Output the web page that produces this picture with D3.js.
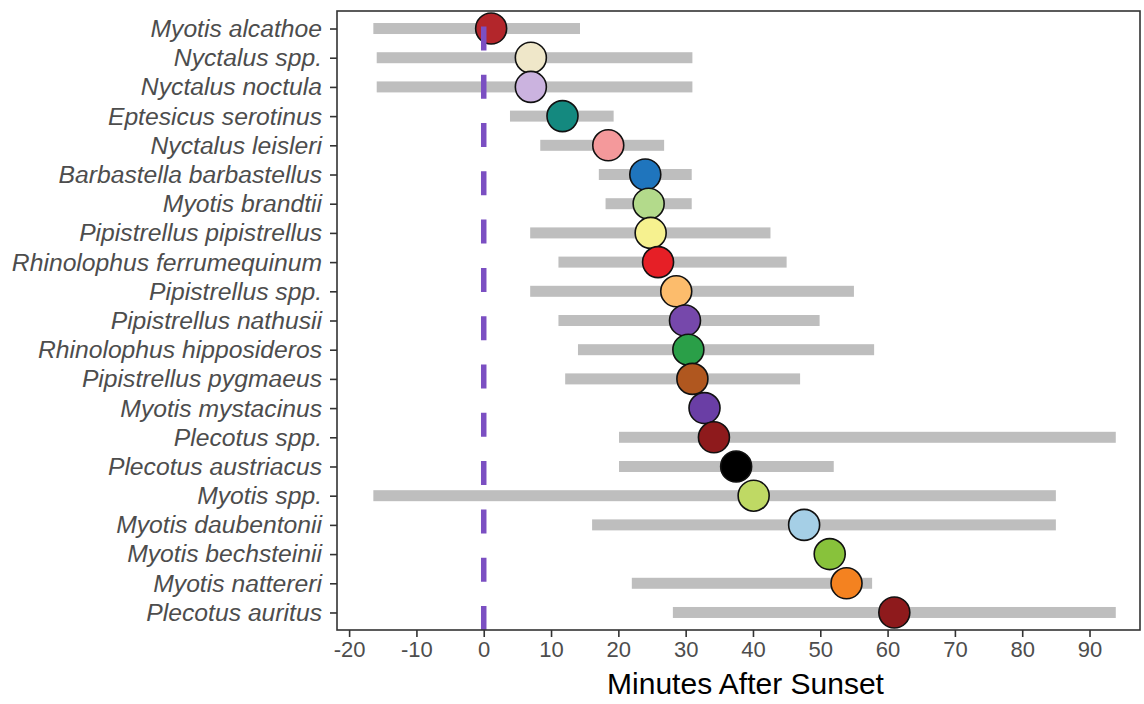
<!DOCTYPE html>
<html>
<head>
<meta charset="utf-8">
<script src="https://cdn.jsdelivr.net/npm/d3@7"></script>
<style>
  html, body { margin: 0; padding: 0; background: #fff; }
  svg text { font-family: "Liberation Sans", Arial, sans-serif; }
</style>
</head>
<body>
<div id="chart"></div>
<script>
// Emergence times of bat species (minutes after sunset)
const species = [
  'Myotis alcathoe', 'Nyctalus spp.', 'Nyctalus noctula', 'Eptesicus serotinus',
  'Nyctalus leisleri', 'Barbastella barbastellus', 'Myotis brandtii',
  'Pipistrellus pipistrellus', 'Rhinolophus ferrumequinum', 'Pipistrellus spp.',
  'Pipistrellus nathusii', 'Rhinolophus hipposideros', 'Pipistrellus pygmaeus',
  'Myotis mystacinus', 'Plecotus spp.', 'Plecotus austriacus', 'Myotis spp.',
  'Myotis daubentonii', 'Myotis bechsteinii', 'Myotis nattereri', 'Plecotus auritus'
];
const rangeStart = [-16.4, -15.9, -15.9, 3.9, 8.4, 17.1, 18.1, 6.9, 11.1, 6.9, 11.1,
  14.0, 12.1, null, 20.1, 20.1, -16.4, 16.1, null, 22.0, 28.1];
const rangeEnd = [14.3, 31.0, 31.0, 19.3, 26.8, 30.9, 30.9, 42.6, 45.0, 55.0, 49.9,
  58.0, 47.0, null, 93.9, 52.0, 85.0, 85.0, null, 57.7, 93.9];
const median = [1.1, 7.0, 7.0, 11.7, 18.5, 24.0, 24.5, 24.8, 25.9, 28.6, 29.9,
  30.4, 31.0, 32.8, 34.2, 37.5, 40.1, 47.6, 51.4, 53.9, 61.0];
const pointColors = ['#b3262b', '#efe7c9', '#cbb3df', '#14897f', '#f4999b', '#1f75bd',
  '#b3da8b', '#f6f18f', '#e61f26', '#fcbc6c', '#7648ab', '#2a9f48', '#b0571f',
  '#6a3ea5', '#8e1a1c', '#000000', '#bfd964', '#a5cfe6', '#88c23b', '#f48220', '#8e1a1c'];
const xTicks = [-20, -10, 0, 10, 20, 30, 40, 50, 60, 70, 80, 90];

const W = 1144, H = 704;
const margin = { top: 11, right: 4, bottom: 74, left: 337 };

const svg = d3.select('#chart').append('svg')
  .attr('width', W)
  .attr('height', H);

const x = d3.scaleLinear()
  .domain([-21.8, 97.5])
  .range([margin.left, W - margin.right]);

const y = d3.scalePoint()
  .domain(species)
  .range([margin.top, H - margin.bottom])
  .padding(0.6);

const rows = species.map((s, i) => ({
  name: s, lo: rangeStart[i], hi: rangeEnd[i], mid: median[i], color: pointColors[i]
}));

// range bars
svg.append('g').selectAll('rect')
  .data(rows.filter((d) => d.lo !== null))
  .enter().append('rect')
  .attr('x', (d) => x(d.lo))
  .attr('y', (d) => y(d.name) - 5.5)
  .attr('width', (d) => x(d.hi) - x(d.lo))
  .attr('height', 11)
  .attr('fill', '#bebebe');

// median points
svg.append('g').selectAll('circle')
  .data(rows)
  .enter().append('circle')
  .attr('cx', (d) => x(d.mid))
  .attr('cy', (d) => y(d.name))
  .attr('r', 15.5)
  .attr('fill', (d) => d.color)
  .attr('stroke', '#111')
  .attr('stroke-width', 1.6);

// sunset reference line, drawn from the bottom up
svg.append('line')
  .attr('x1', x(0)).attr('x2', x(0))
  .attr('y1', H - margin.bottom).attr('y2', margin.top)
  .attr('stroke', '#7b4fc2')
  .attr('stroke-width', 5.5)
  .attr('stroke-dasharray', '24,24.3');

// panel border
svg.append('rect')
  .attr('x', margin.left)
  .attr('y', margin.top)
  .attr('width', W - margin.right - margin.left)
  .attr('height', H - margin.bottom - margin.top)
  .attr('fill', 'none')
  .attr('stroke', '#333')
  .attr('stroke-width', 1.6);

// x axis
const xAxis = svg.append('g')
  .attr('transform', `translate(0,${H - margin.bottom})`)
  .call(d3.axisBottom(x).tickValues(xTicks).tickSize(7).tickPadding(4).tickFormat((d) => String(d)));
xAxis.select('.domain').remove();
xAxis.selectAll('line').attr('stroke', '#333').attr('stroke-width', 1.6);
xAxis.selectAll('text')
  .attr('fill', '#4d4d4d')
  .style('font-size', '22px');

// y axis
const yAxis = svg.append('g')
  .attr('transform', `translate(${margin.left},0)`)
  .call(d3.axisLeft(y).tickSize(7).tickPadding(8));
yAxis.select('.domain').remove();
yAxis.selectAll('line').attr('stroke', '#333').attr('stroke-width', 1.6);
yAxis.selectAll('text')
  .attr('fill', '#4d4d4d')
  .style('font-size', '24.7px')
  .style('font-style', 'italic');

// axis title
svg.append('text')
  .attr('x', (margin.left + W - margin.right) / 2 + 7)
  .attr('y', 694)
  .attr('text-anchor', 'middle')
  .attr('fill', '#000')
  .style('font-size', '30px')
  .text('Minutes After Sunset');
</script>
</body>
</html>
